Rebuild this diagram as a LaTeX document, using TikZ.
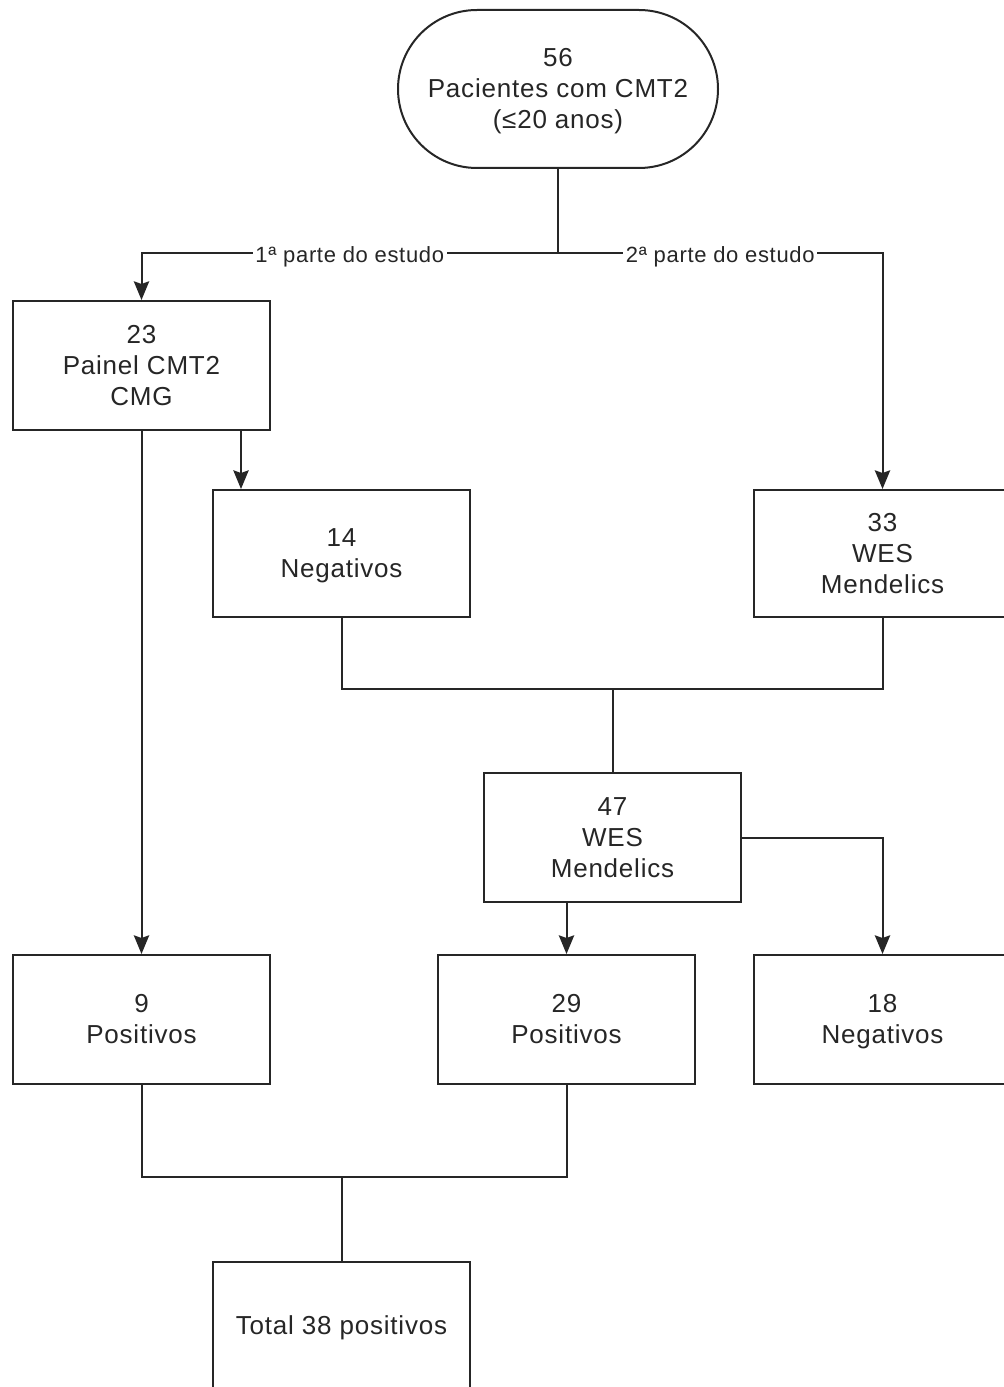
\documentclass[tikz,border=0pt]{standalone}
\usepackage{fontspec}
\setmainfont{Liberation Sans}[LetterSpace=3]
\usetikzlibrary{arrows.meta,shapes.misc}
% struts that keep every text block at the same vertical position
\newcommand\topst{\rule{0pt}{20.2pt}}
\newcommand\botst{\rule[-7pt]{0pt}{7pt}}

\begin{document}
\begin{tikzpicture}[x=0.75pt,y=-0.75pt,
  every node/.style={font=\fontsize{19.5pt}{23.25pt}\selectfont, text=black!85},
  box/.style={draw=black!85, line width=1.5pt, minimum width=192.75pt, minimum height=96.75pt,
              align=center, inner sep=0pt, fill=white},
  startbox/.style={draw=black!85, line width=1.5pt, rounded rectangle, rounded rectangle arc length=180,
              minimum width=240pt, minimum height=118.5pt, align=center, inner sep=0pt},
  conn/.style={draw=black!85, line width=1.5pt},
  arr/.style={conn, -{Stealth[length=14pt, width=11.5pt, inset=2pt]}},
  lbl/.style={fill=white, inner xsep=2pt, inner ysep=1pt, text depth=1pt, yshift=-1.5pt,
              font=\fontsize{16.5pt}{19pt}\selectfont}
]
\useasboundingbox (0,0) rectangle (1003,1387);

% boxes
\node[startbox] (start) at (558,89) {\topst 56\\Pacientes com CMT2\\(≤20 anos)\botst};
\node[box] (painel) at (141.5,365.5) {\topst 23\\Painel CMT2\\CMG\botst};
\node[box, minimum height=95.25pt] (neg1) at (341.5,553.5) {\topst 14\\Negativos\botst};
\node[box, minimum height=95.25pt] (wes1) at (882.5,553.5) {\topst 33\\WES\\Mendelics\botst};
\node[box] (wes2) at (612.5,837.5) {\topst 47\\WES\\Mendelics\botst};
\node[box] (pos1) at (141.5,1019.5) {\topst 9\\Positivos\botst};
\node[box] (pos2) at (566.5,1019.5) {\topst 29\\Positivos\botst};
\node[box] (neg2) at (882.5,1019.5) {\topst 18\\Negativos\botst};
\node[box] (total) at (341.5,1326) {\topst Total 38 positivos\botst};

% split of the study into two parts
\draw[conn] (start.south) -- ++(0,84) coordinate (split);
\draw[arr] (split) -- node[lbl] {1ª parte do estudo} (split -| painel.north) -- (painel.north);
\draw[arr] (split) -- node[lbl] {2ª parte do estudo} (split -| wes1.north) -- (wes1.north);

% first part
\draw[arr] ([xshift=-22.5pt]painel.south east) coordinate (p1) -- (p1 |- neg1.north);
\draw[arr] (painel.south) -- (pos1.north);

% merge into WES
\coordinate (j1) at (612.5,689);
\draw[conn] (neg1.south) |- (j1) -| (wes1.south);
\draw[conn] (j1) -- (wes2.north);
\draw[arr] (pos2.north |- wes2.south) -- (pos2.north);
\draw[arr] (wes2.east) -| (neg2.north);

% total
\coordinate (j2) at (341.5,1177);
\draw[conn] (pos1.south) |- (j2) -| (pos2.south);
\draw[conn] (j2) -- (total.north);
\end{tikzpicture}
\end{document}
